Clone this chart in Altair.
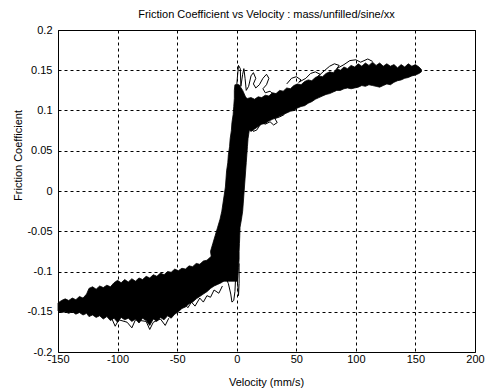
import altair as alt
import pandas as pd

TITLE = "Friction Coefficient vs Velocity : mass/unfilled/sine/xx"
X_TITLE = "Velocity (mm/s)"
Y_TITLE = "Friction Coefficient"
X_TICKS = [-150, -100, -50, 0, 50, 100, 150, 200]
Y_TICKS = [-0.2, -0.15, -0.1, -0.05, 0, 0.05, 0.1, 0.15, 0.2]

# negative-velocity plateau of the dense band (upper / lower envelope)
neg_x = [-150, -147, -144, -141, -138, -135, -132, -129, -126, -124, -121, -118, -115, -112,
         -109, -106, -103, -100, -97, -94, -91, -88, -85, -82, -79, -76, -73, -70, -67, -64,
         -61, -58, -55, -52, -49, -46, -43, -40, -37, -34, -31, -28, -25, -22, -19, -16, -13, -11]
neg_hi = [-0.139, -0.136, -0.134, -0.136, -0.133, -0.135, -0.131, -0.133, -0.128, -0.121, -0.119,
          -0.122, -0.118, -0.120, -0.117, -0.119, -0.114, -0.111, -0.114, -0.110, -0.113, -0.109,
          -0.112, -0.108, -0.110, -0.106, -0.108, -0.104, -0.106, -0.102, -0.104, -0.100, -0.101,
          -0.097, -0.099, -0.096, -0.097, -0.093, -0.094, -0.090, -0.091, -0.087, -0.086, -0.082,
          -0.079, -0.074, -0.068, -0.062]
neg_lo = [-0.149, -0.151, -0.150, -0.152, -0.150, -0.153, -0.151, -0.154, -0.152, -0.156, -0.154,
          -0.157, -0.155, -0.159, -0.156, -0.161, -0.158, -0.163, -0.157, -0.160, -0.158, -0.162,
          -0.159, -0.164, -0.158, -0.161, -0.167, -0.159, -0.162, -0.157, -0.160, -0.155, -0.158,
          -0.153, -0.150, -0.146, -0.144, -0.140, -0.138, -0.134, -0.131, -0.128, -0.125, -0.121,
          -0.118, -0.116, -0.114, -0.112]

# steep transition around zero velocity (left / right envelope by friction level)
mid_y = [-0.112, -0.105, -0.095, -0.085, -0.075, -0.065, -0.055, -0.045, -0.035, -0.025, -0.015,
         -0.005, 0.005, 0.015, 0.025, 0.035, 0.045, 0.055, 0.065, 0.075, 0.085, 0.095, 0.105,
         0.115, 0.125, 0.132]
mid_left = [-13, -16, -19, -21, -22, -20, -18, -16, -14, -12.5, -11.5, -10.5, -9.5, -9, -8.5, -7.5,
            -7, -6, -5.5, -4.5, -4, -3, -2.5, -2, -2, -1.5]
mid_right = [0.5, 1, 1.5, 2, 2, 2.3, 2.6, 2.8, 4, 5, 5.5, 6, 6.5, 7, 7.5, 8, 8.5, 9, 9.5, 10.5, 12,
             12, 10, 8, 5, 2]

# positive-velocity plateau
pos_x = [0, 3, 6, 9, 12, 15, 18, 21, 24, 27, 30, 33, 36, 39, 42, 45, 48, 51, 54, 57, 60, 63, 66,
         69, 72, 75, 78, 81, 84, 87, 90, 93, 96, 99, 102, 105, 108, 111, 114, 117, 120, 123, 126,
         129, 132, 135, 138, 141, 144, 147, 150, 153, 155]
pos_hi = [0.118, 0.120, 0.117, 0.115, 0.116, 0.114, 0.117, 0.116, 0.119, 0.118, 0.122, 0.121,
          0.125, 0.124, 0.128, 0.127, 0.131, 0.133, 0.132, 0.136, 0.138, 0.137, 0.141, 0.143,
          0.142, 0.146, 0.148, 0.147, 0.152, 0.150, 0.154, 0.152, 0.156, 0.154, 0.158, 0.155,
          0.159, 0.156, 0.160, 0.156, 0.159, 0.155, 0.158, 0.155, 0.157, 0.153, 0.157, 0.154,
          0.158, 0.155, 0.157, 0.154, 0.151]
pos_lo = [0.100, 0.095, 0.085, 0.078, 0.074, 0.077, 0.080, 0.083, 0.084, 0.087, 0.089, 0.091,
          0.093, 0.095, 0.097, 0.099, 0.100, 0.103, 0.105, 0.106, 0.109, 0.111, 0.114, 0.116,
          0.118, 0.120, 0.121, 0.123, 0.125, 0.125, 0.127, 0.128, 0.127, 0.128, 0.129, 0.131,
          0.130, 0.132, 0.131, 0.130, 0.129, 0.131, 0.133, 0.132, 0.135, 0.137, 0.138, 0.140,
          0.141, 0.143, 0.144, 0.146, 0.148]

# stray loops outside the dense band
tr_top_x = [-1, 0.5, 1.5, 3, 3.5, 5, 6, 7, 8, 10, 12, 14, 16, 14, 16, 19, 22, 25, 27, 25, 22, 24, 28, 30]
tr_top_y = [0.11, 0.14, 0.156, 0.152, 0.13, 0.145, 0.152, 0.14, 0.125, 0.13, 0.143, 0.147, 0.14,
            0.133, 0.128, 0.132, 0.14, 0.145, 0.14, 0.132, 0.127, 0.122, 0.124, 0.121]
tr_low_x = [12, 14, 17, 19, 16, 20, 24, 28, 31, 34, 32, 36, 40]
tr_low_y = [0.08, 0.074, 0.076, 0.081, 0.083, 0.086, 0.083, 0.086, 0.082, 0.085, 0.09, 0.092, 0.095]
tr_upper_x = [42, 46, 50, 54, 52, 58, 62, 66, 70, 68, 74, 78, 82, 86, 84, 90, 95, 100, 104, 110, 114]
tr_upper_y = [0.133, 0.14, 0.142, 0.138, 0.135, 0.14, 0.146, 0.148, 0.145, 0.142, 0.15, 0.155,
              0.158, 0.156, 0.152, 0.157, 0.162, 0.163, 0.16, 0.164, 0.161]
tr_spike_x = [-10, -7, -5, -4, -2.5, -1.5, -1, 0, 1, 1.5, 2, 2]
tr_spike_y = [-0.105, -0.115, -0.128, -0.138, -0.136, -0.125, -0.11, -0.1, -0.12, -0.13, -0.115, -0.09]
tr_neg_x = [-48, -44, -41, -38, -35, -31, -28, -25, -22, -19, -15, -12]
tr_neg_y = [-0.148, -0.14, -0.145, -0.138, -0.143, -0.133, -0.138, -0.13, -0.132, -0.123, -0.127, -0.118]
tr_bot_x = [-105, -102, -99, -92, -88, -85, -76, -73, -70, -64, -60, -57]
tr_bot_y = [-0.158, -0.168, -0.16, -0.163, -0.17, -0.16, -0.162, -0.172, -0.163, -0.159, -0.167, -0.158]

neg_df = pd.DataFrame({"x": neg_x, "y": neg_hi, "y2": neg_lo})
mid_df = pd.DataFrame({"y": mid_y, "x": mid_left, "x2": mid_right})
pos_df = pd.DataFrame({"x": pos_x, "y": pos_hi, "y2": pos_lo})

rows = []
for name, xs, ys in [("top", tr_top_x, tr_top_y), ("low", tr_low_x, tr_low_y),
                     ("upper", tr_upper_x, tr_upper_y), ("spike", tr_spike_x, tr_spike_y),
                     ("neg", tr_neg_x, tr_neg_y), ("bot", tr_bot_x, tr_bot_y)]:
    for i, (a, b) in enumerate(zip(xs, ys)):
        rows.append({"trace": name, "i": i, "x": a, "y": b})
tr_df = pd.DataFrame(rows)

label_expr = "datum.value < 0 ? '-' + format(-datum.value, '~g') : format(datum.value, '~g')"
FONT = "Liberation Sans"

x_scale = alt.Scale(domain=[-150, 200], nice=False, zero=False)
y_scale = alt.Scale(domain=[-0.2, 0.2], nice=False, zero=False)

x_axis = alt.Axis(values=X_TICKS, title=X_TITLE, labelExpr=label_expr, grid=True,
                  ticks=False, domain=False, labelPadding=1, labelFlush=False,
                  titleX=208, titleY=30, titleBaseline="middle", titleAnchor="middle")
y_axis = alt.Axis(values=Y_TICKS, title=Y_TITLE, labelExpr=label_expr, grid=True,
                  ticks=False, domain=False, labelPadding=6, labelFlush=False,
                  titleX=-40, titleY=125, titleBaseline="middle", titleAngle=270)

X = alt.X("x:Q", scale=x_scale, axis=x_axis)
Y = alt.Y("y:Q", scale=y_scale, axis=y_axis)

neg_area = alt.Chart(neg_df).mark_area(color="black", stroke="black", strokeWidth=0.8).encode(
    x=X, y=Y, y2="y2:Q")
mid_area = alt.Chart(mid_df).mark_area(color="black", stroke="black", strokeWidth=0.8,
                                       orient="horizontal").encode(
    y=Y, x=X, x2="x2:Q")
pos_area = alt.Chart(pos_df).mark_area(color="black", stroke="black", strokeWidth=0.8).encode(
    x=X, y=Y, y2="y2:Q")
lines = alt.Chart(tr_df).mark_line(color="black", strokeWidth=1).encode(
    x=X, y=Y, detail="trace:N", order="i:Q")

chart = alt.layer(neg_area, mid_area, pos_area, lines).properties(
    width=417, height=322,
    title=alt.TitleParams(TITLE, fontSize=11, font=FONT, fontWeight="normal", color="black",
                          offset=4, anchor="middle"),
    autosize=alt.AutoSizeParams(type="none"),
    padding={"left": 58, "top": 30, "right": 11, "bottom": 39},
).configure(
    background="white",
    view=alt.ViewConfig(stroke="black", strokeWidth=1),
    axis=alt.AxisConfig(
        gridColor="black", gridDash=[3, 3], gridWidth=1, gridOpacity=1,
        labelFont=FONT, labelFontSize=11, labelColor="black",
        titleFont=FONT, titleFontSize=11, titleFontWeight="normal", titleColor="black",
    ),
)

chart.save("out.html", embed_options={"renderer": "svg", "actions": False})
